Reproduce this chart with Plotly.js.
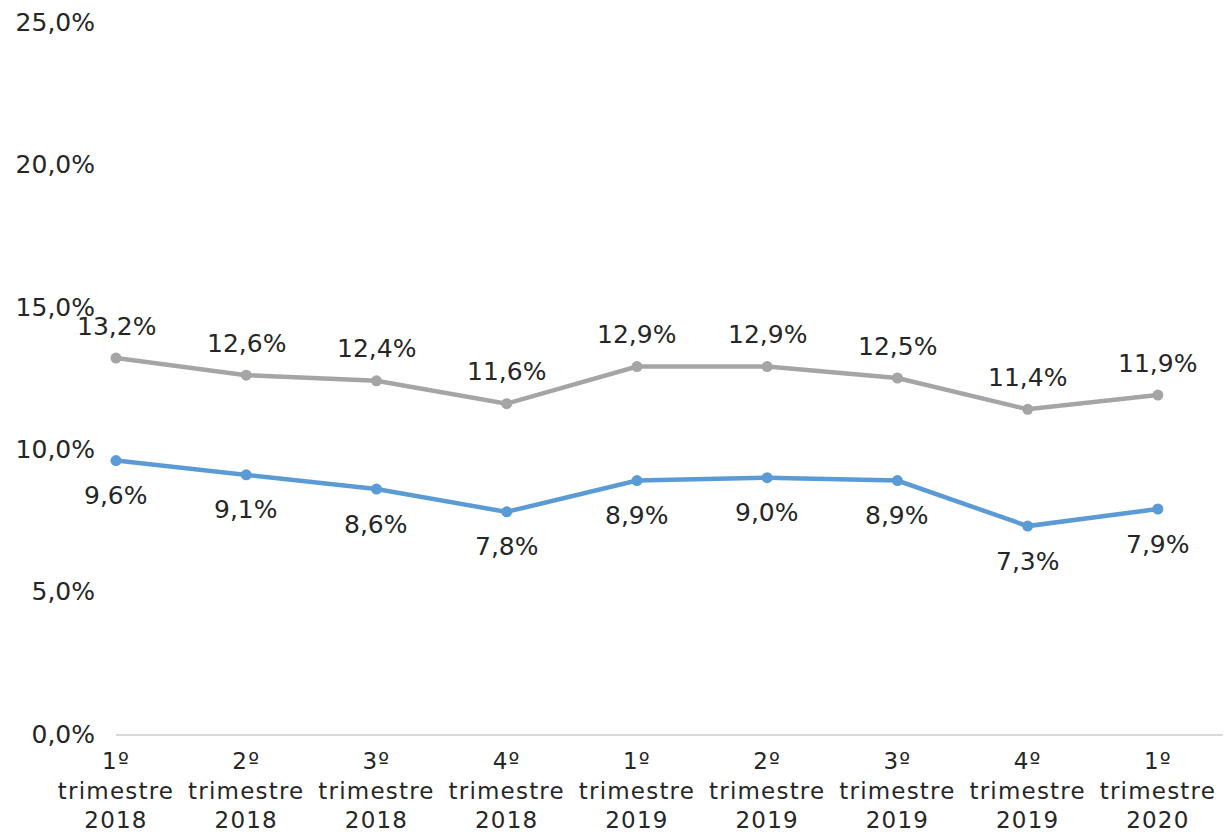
<!DOCTYPE html>
<html>
<head>
<meta charset="utf-8">
<script src="https://cdn.plot.ly/plotly-3.0.1.min.js"></script>
<style>html,body{margin:0;padding:0;background:#fff;}#chart{width:1225px;height:834px;}
#chart .xtick text{letter-spacing:1.2px;}
</style>
</head>
<body>
<div id="chart"></div>
<script>
const categories = ["1º<br>trimestre<br>2018","2º<br>trimestre<br>2018","3º<br>trimestre<br>2018","4º<br>trimestre<br>2018","1º<br>trimestre<br>2019","2º<br>trimestre<br>2019","3º<br>trimestre<br>2019","4º<br>trimestre<br>2019","1º<br>trimestre<br>2020"];
const serieGris = [13.2, 12.6, 12.4, 11.6, 12.9, 12.9, 12.5, 11.4, 11.9];
const serieAzul = [9.6, 9.1, 8.6, 7.8, 8.9, 9.0, 8.9, 7.3, 7.9];
const yTicks = [0, 5, 10, 15, 20, 25];

const fmt = v => v.toFixed(1).replace('.', ',') + '%';
const xIdx = categories.map((c, i) => i);
const FONT = "'DejaVu Sans', sans-serif";
const TXT = '#262626';

const traces = [
  {
    x: xIdx, y: serieGris, type: 'scatter', mode: 'lines+markers',
    line: {color: '#A5A5A5', width: 4.5},
    marker: {color: '#A5A5A5', size: 11},
    cliponaxis: false, hoverinfo: 'skip'
  },
  {
    x: xIdx, y: serieAzul, type: 'scatter', mode: 'lines+markers',
    line: {color: '#5B9BD5', width: 4.5},
    marker: {color: '#5B9BD5', size: 11},
    cliponaxis: false, hoverinfo: 'skip'
  }
];

const annotations = [];
serieGris.forEach((v, i) => annotations.push({
  x: i, y: v, xref: 'x', yref: 'y', text: fmt(v), showarrow: false,
  yshift: 32, font: {family: FONT, size: 25, color: TXT}
}));
serieAzul.forEach((v, i) => annotations.push({
  x: i, y: v, xref: 'x', yref: 'y', text: fmt(v), showarrow: false,
  yshift: -35, font: {family: FONT, size: 25, color: TXT}
}));

const layout = {
  width: 1225, height: 834,
  margin: {l: 116, r: 2, t: 22, b: 100},
  paper_bgcolor: '#fff', plot_bgcolor: '#fff',
  showlegend: false,
  font: {family: FONT, size: 25, color: TXT},
  annotations: annotations,
  xaxis: {
    range: [0, 8.5],
    tickmode: 'array', tickvals: xIdx, ticktext: categories,
    showgrid: false, zeroline: false,
    showline: true, linecolor: '#D9D9D9', linewidth: 2,
    ticks: '', ticklabelstandoff: 5,
    tickfont: {family: FONT, size: 23, color: TXT}
  },
  yaxis: {
    range: [0, 25],
    tickmode: 'array', tickvals: yTicks, ticktext: yTicks.map(fmt),
    showgrid: false, zeroline: false, showline: false,
    ticks: '', ticklabelstandoff: 20,
    tickfont: {family: FONT, size: 25, color: TXT}
  }
};

Plotly.newPlot('chart', traces, layout, {displayModeBar: false, staticPlot: true});
</script>
</body>
</html>
